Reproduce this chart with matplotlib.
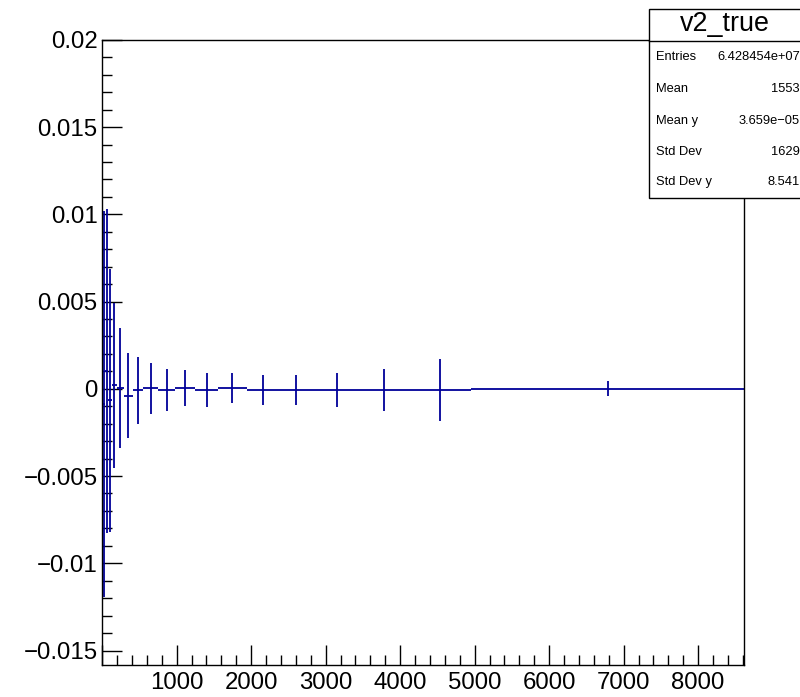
import numpy as np
import matplotlib
matplotlib.use("Agg")
import matplotlib.pyplot as plt
from matplotlib.ticker import MultipleLocator, FuncFormatter
from matplotlib.patches import Rectangle
from matplotlib.lines import Line2D

plt.rcParams['font.family'] = ['Liberation Sans', 'DejaVu Sans']

# variable bin edges
edges = np.array([0, 38, 78, 131, 192, 293, 413, 552, 753, 977, 1246, 1558,
                  1940, 2373, 2843, 3460, 4105, 4951, 8619])
values = np.array([-8.7e-4, 1.02e-3, -6.65e-4, 2.0e-4, 4.6e-5, -3.95e-4, -9.2e-5,
                   2.9e-5, -6.9e-5, 2.9e-5, -6.9e-5, 2.9e-5, -6.9e-5, -6.9e-5,
                   -6.9e-5, -6.9e-5, -6.9e-5, 1.7e-5])
errors = np.array([0.01105, 0.00928, 0.00753, 0.00472, 0.00344, 0.00244, 0.00192,
                   0.00146, 0.00119, 0.00104, 0.00096, 0.00087, 0.00087, 0.00087,
                   0.00096, 0.00119, 0.00178, 0.00043])

stat_names = ['Entries', 'Mean', 'Mean y', 'Std Dev', 'Std Dev y']
stat_values = ['6.428454e+07', '1553', '3.659e\u221205', '1629', '8.541']

W, H = 800, 697
fig = plt.figure(figsize=(W / 100, H / 100), dpi=100)
ax = fig.add_axes([102.2 / W, 1 - 665 / H, (744.3 - 102.2) / W, (665 - 39.5) / H])

centers = 0.5 * (edges[1:] + edges[:-1])
half = 0.5 * (edges[1:] - edges[:-1])
ax.errorbar(centers, values, xerr=half, yerr=errors, fmt='none',
            ecolor='#000099', elinewidth=1.3, capsize=0)

ax.set_xlim(0, 8619)
ax.set_ylim(-0.01583, 0.02002)

ax.xaxis.set_major_locator(MultipleLocator(1000))
ax.xaxis.set_minor_locator(MultipleLocator(200))
ax.yaxis.set_major_locator(MultipleLocator(0.005))
ax.yaxis.set_minor_locator(MultipleLocator(0.001))

def yfmt(v, pos):
    v = round(v, 6)
    if v == 0:
        return '0'
    return f'{v:g}'.replace('-', '\u2212')

def xfmt(v, pos):
    return '' if round(v) == 0 else f'{int(round(v))}'

ax.yaxis.set_major_formatter(FuncFormatter(yfmt))
ax.xaxis.set_major_formatter(FuncFormatter(xfmt))

ax.tick_params(which='both', direction='in', top=False, right=False, width=1, color='black')
ax.tick_params(which='major', length=14.5, labelsize=17.3)
ax.tick_params(which='minor', length=7.2)
ax.tick_params(axis='y', pad=3.4)
ax.tick_params(axis='x', pad=4.8)
for s in ax.spines.values():
    s.set_linewidth(1)

# stats box
fx = lambda px: px / W
fy = lambda py: 1 - py / H
fig.patches.append(Rectangle((fx(649), fy(198.3)), fx(801) - fx(649), fy(9) - fy(198.3),
                             transform=fig.transFigure, facecolor='white',
                             edgecolor='black', linewidth=1, zorder=5))
fig.lines.append(Line2D([fx(649), fx(801)], [fy(40.7), fy(40.7)],
                        transform=fig.transFigure, color='black', linewidth=1, zorder=6))
fig.text(fx(725), fy(24), 'v2_true', ha='center', va='center', fontsize=19.4, zorder=7)
rows_y = [57.3, 89.3, 120.7, 151.7, 182.3]
for name, val, ry in zip(stat_names, stat_values, rows_y):
    fig.text(fx(655.7), fy(ry), name, ha='left', va='center', fontsize=9.3, zorder=7)
    fig.text(fx(800), fy(ry), val, ha='right', va='center', fontsize=9.3, zorder=7)

fig.savefig('out.png', dpi=100, facecolor='white')
